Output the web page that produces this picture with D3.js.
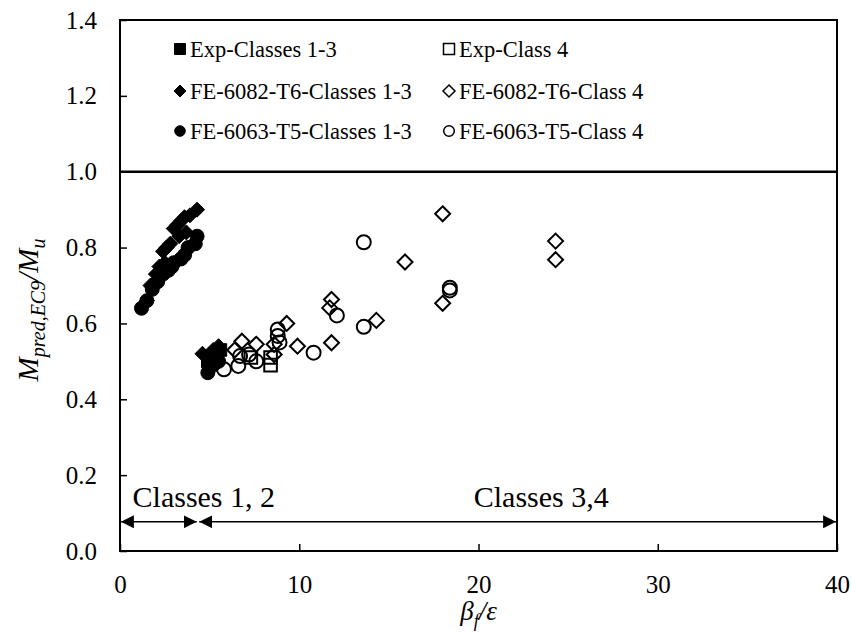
<!DOCTYPE html>
<html>
<head>
<meta charset="utf-8">
<script src="https://cdn.jsdelivr.net/npm/d3@7"></script>
<style>
  body { margin: 0; background: #fff; }
  text { font-family: "Liberation Serif", "Times New Roman", serif; fill: #000; }
</style>
</head>
<body>
<svg id="chart"></svg>
<script>
// beta_f/eps vs M_pred,EC9/M_u
const expClasses13 = [[4.9, 0.50], [5.3, 0.52], [5.6, 0.53]];
const expClass4 = [[7.3, 0.51], [8.4, 0.51], [8.4, 0.49]];
const fe6082Classes13 = [
  [1.5, 0.66], [1.7, 0.70], [2.0, 0.73], [2.2, 0.75], [2.4, 0.79], [2.5, 0.76],
  [2.6, 0.80], [2.8, 0.81], [3.0, 0.85], [3.2, 0.86], [3.3, 0.83], [3.4, 0.87],
  [3.6, 0.88], [3.7, 0.84], [3.9, 0.885], [4.3, 0.90],
  [4.6, 0.52], [4.9, 0.51], [5.0, 0.50], [5.2, 0.53], [5.5, 0.54]
];
const fe6082Class4 = [
  [6.4, 0.53], [6.8, 0.553], [7.6, 0.545], [8.6, 0.545], [8.6, 0.518], [9.3, 0.60],
  [9.9, 0.54], [11.8, 0.663], [11.7, 0.641], [11.8, 0.549], [14.3, 0.608],
  [15.9, 0.762], [18.0, 0.889], [18.0, 0.653], [24.3, 0.817], [24.3, 0.768]
];
const fe6063Classes13 = [
  [1.2, 0.64], [1.5, 0.66], [1.8, 0.69], [2.1, 0.71], [2.4, 0.73], [2.7, 0.74],
  [2.9, 0.75], [3.0, 0.76], [3.4, 0.77], [3.6, 0.78], [3.8, 0.80], [4.2, 0.81],
  [4.3, 0.83], [4.9, 0.47], [5.2, 0.49], [5.5, 0.50]
];
const fe6063Class4 = [
  [5.8, 0.479], [6.6, 0.488], [6.7, 0.514], [7.2, 0.518], [7.6, 0.50], [8.8, 0.584],
  [8.8, 0.567], [8.9, 0.55], [10.8, 0.523], [12.1, 0.621], [13.6, 0.814],
  [13.6, 0.591], [18.4, 0.694], [18.4, 0.687]
];

const xTicks = [0, 10, 20, 30, 40];
const yTicks = [0, 0.2, 0.4, 0.6, 0.8, 1.0, 1.2, 1.4];

const series = [
  {name: "Exp-Classes 1-3", data: expClasses13, shape: "square", filled: true},
  {name: "Exp-Class 4", data: expClass4, shape: "square", filled: false},
  {name: "FE-6082-T6-Classes 1-3", data: fe6082Classes13, shape: "diamond", filled: true},
  {name: "FE-6082-T6-Class 4", data: fe6082Class4, shape: "diamond", filled: false},
  {name: "FE-6063-T5-Classes 1-3", data: fe6063Classes13, shape: "circle", filled: true},
  {name: "FE-6063-T5-Class 4", data: fe6063Class4, shape: "circle", filled: false}
];

const W = 852, H = 635;
const margin = {top: 20, right: 15, bottom: 84, left: 120};
const width = W - margin.left - margin.right;
const height = H - margin.top - margin.bottom;

const svg = d3.select("#chart").attr("width", W).attr("height", H);
const g = svg.append("g").attr("transform", `translate(${margin.left},${margin.top})`);

const x = d3.scaleLinear().domain([0, 40]).range([0, width]);
const y = d3.scaleLinear().domain([0, 1.4]).range([height, 0]);

// axes with inward ticks
const xAxis = d3.axisBottom(x).tickValues(xTicks).tickSizeInner(-7).tickSizeOuter(0).tickPadding(24);
const yAxis = d3.axisLeft(y).tickValues(yTicks).tickSizeInner(-7).tickSizeOuter(0).tickPadding(23)
  .tickFormat(d3.format(".1f"));

const xg = g.append("g").attr("transform", `translate(0,${height})`).call(xAxis);
const yg = g.append("g").call(yAxis);
[xg, yg].forEach(a => {
  a.select(".domain").remove();
  a.selectAll("line").attr("stroke", "#000").attr("stroke-width", 1.5);
  a.selectAll("text").attr("font-size", 25).attr("font-family", "Liberation Serif, serif");
});

// frame
g.append("rect").attr("width", width).attr("height", height)
  .attr("fill", "none").attr("stroke", "#000").attr("stroke-width", 2);

// reference line at 1.0
g.append("line").attr("x1", 0).attr("x2", width).attr("y1", y(1)).attr("y2", y(1))
  .attr("stroke", "#000").attr("stroke-width", 2.5);

function shapePath(shape, s) {
  if (shape === "diamond") return `M0,${-s}L${s},0L0,${s}L${-s},0Z`;
  if (shape === "square") return `M${-s},${-s}h${s * 2}v${s * 2}h${-s * 2}Z`;
  return d3.arc()({innerRadius: 0, outerRadius: s, startAngle: 0, endAngle: 2 * Math.PI});
}
const markSize = {diamond: 7.5, square: 6.3, circle: 7};

series.forEach(sr => {
  g.append("g").selectAll("path")
    .data(sr.data)
    .join("path")
    .attr("transform", d => `translate(${x(d[0])},${y(d[1])})`)
    .attr("d", shapePath(sr.shape, markSize[sr.shape]))
    .attr("fill", sr.filled ? "#000" : "none")
    .attr("stroke", "#000")
    .attr("stroke-width", sr.filled ? 1 : 2);
});

// legend
const legendPos = [[60, 29], [329, 29], [60, 71], [329, 71], [60, 111], [329, 111]];
const legendSize = {diamond: 6, square: 5.5, circle: 5.3};
series.forEach((sr, i) => {
  const [lx, ly] = legendPos[i];
  g.append("path")
    .attr("transform", `translate(${lx},${ly})`)
    .attr("d", shapePath(sr.shape, legendSize[sr.shape]))
    .attr("fill", sr.filled ? "#000" : "none")
    .attr("stroke", "#000")
    .attr("stroke-width", sr.filled ? 1 : 1.5);
  g.append("text").attr("x", lx + 10).attr("y", ly).attr("dy", "0.35em")
    .attr("font-size", 22.5).text(sr.name);
});

// class range annotations
svg.append("defs").append("marker")
  .attr("id", "arr").attr("viewBox", "0 0 10 10").attr("refX", 10).attr("refY", 5)
  .attr("markerWidth", 13).attr("markerHeight", 13).attr("markerUnits", "userSpaceOnUse")
  .attr("orient", "auto-start-reverse")
  .append("path").attr("d", "M0,0L10,5L0,10Z").attr("fill", "#000");

const arrowY = y(0.077);
[[0.05, 4.28], [4.42, 39.95]].forEach(([a, b]) => {
  g.append("line").attr("x1", x(a)).attr("x2", x(b)).attr("y1", arrowY).attr("y2", arrowY)
    .attr("stroke", "#000").attr("stroke-width", 1.5)
    .attr("marker-start", "url(#arr)").attr("marker-end", "url(#arr)");
});
g.append("text").attr("x", x(0.7)).attr("y", arrowY - 15).attr("font-size", 30).text("Classes 1, 2");
g.append("text").attr("x", x(23.5)).attr("y", arrowY - 15).attr("font-size", 30)
  .attr("text-anchor", "middle").text("Classes 3,4");

// axis titles
const xl = svg.append("text").attr("x", margin.left + x(20)).attr("y", 620)
  .attr("text-anchor", "middle").attr("font-size", 27).attr("font-style", "italic");
xl.append("tspan").text("β");
xl.append("tspan").attr("font-size", 18).attr("dy", 7).text("f");
xl.append("tspan").attr("dy", -7).text("/ε");

const yl = svg.append("text").attr("transform", `translate(38,310) rotate(-90)`)
  .attr("text-anchor", "middle").attr("font-size", 29).attr("font-style", "italic");
yl.append("tspan").text("M");
yl.append("tspan").attr("font-size", 20).attr("dy", 7).text("pred,EC9");
yl.append("tspan").attr("dy", -7).text("/M");
yl.append("tspan").attr("font-size", 20).attr("dy", 7).text("u");
</script>
</body>
</html>
